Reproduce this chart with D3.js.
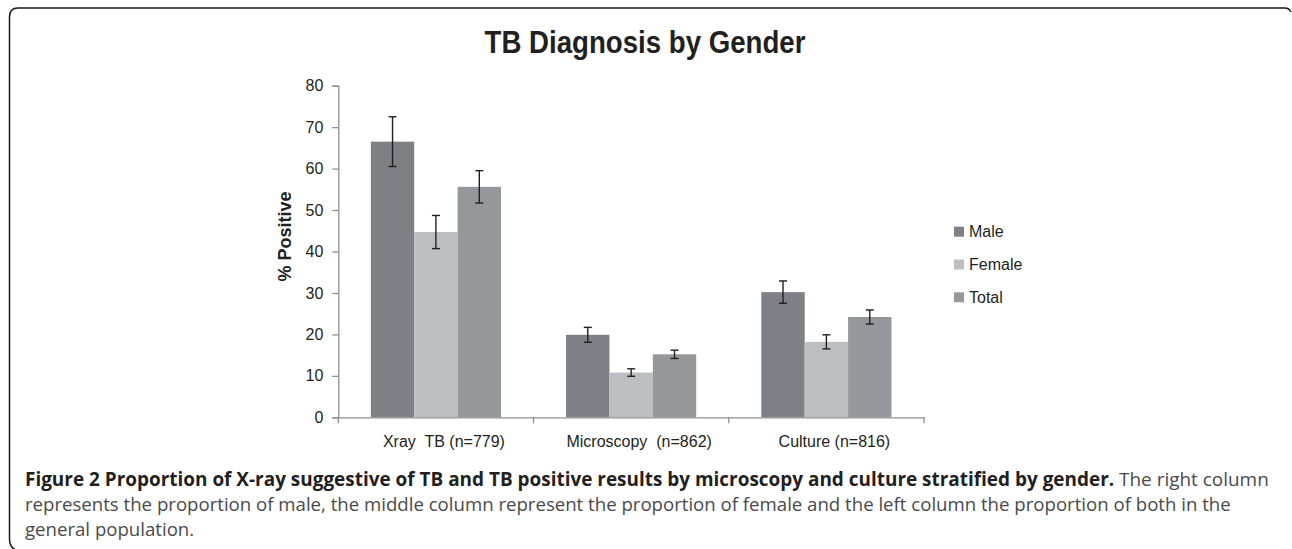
<html>
<head>
<script src="https://cdn.jsdelivr.net/npm/d3@7"></script>
<style>
    body {
        margin: 0;
        background: white;
    }
    svg text {
        font-family: "Liberation Sans", Arial, Helvetica, sans-serif;
    }
    svg text.caption {
        font-family: "Open Sans", sans-serif;
    }
</style>
</head>
<body>
<svg id="chart"></svg>
<script>
    // data
    let categories = ["Xray  TB (n=779)", "Microscopy  (n=862)", "Culture (n=816)"];
    let seriesNames = ["Male", "Female", "Total"];
    let maleValues = [66.5, 19.9, 30.2];
    let maleErrors = [6.0, 1.8, 2.7];
    let femaleValues = [44.7, 10.8, 18.2];
    let femaleErrors = [4.0, 0.9, 1.7];
    let totalValues = [55.6, 15.2, 24.2];
    let totalErrors = [3.9, 1.0, 1.7];
    let yTicks = [0, 10, 20, 30, 40, 50, 60, 70, 80];
    let seriesColors = ["#7f8085", "#bdbec2", "#96979b"];

    let captionBold = "Figure 2 Proportion of X-ray suggestive of TB and TB positive results by microscopy and culture stratified by gender.";
    let captionLines = [
        " The right column",
        "represents the proportion of male, the middle column represent the proportion of female and the left column the proportion of both in the",
        "general population."
    ];

    let width = 1292;
    let height = 549;
    let svg = d3.select("#chart")
        .attr("width", width)
        .attr("height", height);

    // frame around the figure
    svg.append("path")
        .attr("d", "M 19,551 Q 9.5,549 9.5,539 L 9.5,17 Q 9.5,8 18,8 L 1285,8 Q 1289,8 1291,12")
        .attr("fill", "none")
        .attr("stroke", "#1a1a1a")
        .attr("stroke-width", 1.5);

    // title
    svg.append("text")
        .attr("x", 645)
        .attr("y", 53)
        .attr("text-anchor", "middle")
        .attr("textLength", 321)
        .attr("lengthAdjust", "spacingAndGlyphs")
        .style("font-size", "31px")
        .style("font-weight", "bold")
        .attr("fill", "#231f20")
        .text("TB Diagnosis by Gender");

    let margin = { left: 338.3, right: 368, top: 85.7, bottom: 131.7 };
    let plotLeft = margin.left;
    let plotRight = width - margin.right;
    let plotTop = margin.top;
    let plotBottom = height - margin.bottom;

    let xScale = d3.scaleBand()
        .domain(categories)
        .range([plotLeft, plotRight])
        .padding(0);

    let groupScale = d3.scaleBand()
        .domain(seriesNames)
        .range([xScale.bandwidth() / 6, xScale.bandwidth() * 5 / 6])
        .padding(0);

    let yScale = d3.scaleLinear()
        .domain([0, 80])
        .range([plotBottom, plotTop]);

    let colorScale = d3.scaleOrdinal()
        .domain(seriesNames)
        .range(seriesColors);

    let table = [];
    categories.forEach((c, i) => {
        table.push({ cat: c, name: "Male", value: maleValues[i], err: maleErrors[i] });
        table.push({ cat: c, name: "Female", value: femaleValues[i], err: femaleErrors[i] });
        table.push({ cat: c, name: "Total", value: totalValues[i], err: totalErrors[i] });
    });

    // bars
    svg.append("g").selectAll("rect")
        .data(table)
        .enter()
        .append("rect")
        .attr("x", d => xScale(d.cat) + groupScale(d.name))
        .attr("y", d => yScale(d.value))
        .attr("width", groupScale.bandwidth())
        .attr("height", d => yScale(0) - yScale(d.value))
        .attr("fill", d => colorScale(d.name));

    // error bars
    let errs = svg.append("g")
        .attr("stroke", "#231f20")
        .attr("stroke-width", 1.4);
    let errX = d => xScale(d.cat) + groupScale(d.name) + groupScale.bandwidth() / 2;
    errs.selectAll(".stem")
        .data(table)
        .enter()
        .append("line")
        .attr("x1", errX)
        .attr("x2", errX)
        .attr("y1", d => yScale(d.value + d.err))
        .attr("y2", d => yScale(d.value - d.err));
    ["top", "bottom"].forEach(side => {
        errs.selectAll(".cap-" + side)
            .data(table)
            .enter()
            .append("line")
            .attr("x1", d => errX(d) - 4)
            .attr("x2", d => errX(d) + 4)
            .attr("y1", d => yScale(side == "top" ? d.value + d.err : d.value - d.err))
            .attr("y2", d => yScale(side == "top" ? d.value + d.err : d.value - d.err));
    });

    // y axis
    let axisY = d3.axisLeft(yScale)
        .tickValues(yTicks)
        .tickSize(6)
        .tickPadding(9);
    let gy = svg.append("g")
        .attr("transform", `translate(${plotLeft},0)`)
        .call(axisY);
    gy.selectAll("text")
        .style("font-size", "16px")
        .attr("fill", "#231f20");

    // x axis, ticks between the groups
    let axisX = d3.axisBottom(xScale)
        .tickSize(0)
        .tickPadding(18);
    let gx = svg.append("g")
        .attr("transform", `translate(0,${plotBottom})`)
        .call(axisX);
    gx.selectAll("text")
        .style("font-size", "16px")
        .style("white-space", "pre")
        .attr("dx", 8)
        .attr("fill", "#231f20");
    gx.selectAll(".sep")
        .data(categories.concat([null]))
        .enter()
        .append("line")
        .attr("x1", (d, i) => i < categories.length ? xScale(d) : plotRight)
        .attr("x2", (d, i) => i < categories.length ? xScale(d) : plotRight)
        .attr("y1", 0)
        .attr("y2", 6);

    [gx, gy].forEach(g => {
        g.selectAll("path, line").attr("stroke", "#8f8f8f").attr("stroke-width", 1.3);
        g.select(".domain").attr("stroke", "#8f8f8f");
    });

    // y axis label
    svg.append("text")
        .attr("transform", `translate(291,${(plotTop + plotBottom) / 2 - 15}) rotate(-90)`)
        .attr("text-anchor", "middle")
        .style("font-size", "18px")
        .style("font-weight", "bold")
        .attr("fill", "#231f20")
        .text("% Positive");

    // legend
    let legend = svg.append("g")
        .attr("transform", "translate(954,226.7)");
    let items = legend.selectAll("g")
        .data(seriesNames)
        .enter()
        .append("g")
        .attr("transform", (d, i) => `translate(0,${i * 32.8})`);
    items.append("rect")
        .attr("width", 10)
        .attr("height", 10)
        .attr("fill", d => colorScale(d));
    items.append("text")
        .attr("x", 15)
        .attr("y", 10.5)
        .style("font-size", "16px")
        .attr("fill", "#231f20")
        .text(d => d);

    // caption
    let cap = svg.append("g");
    let line1 = cap.append("text")
        .attr("class", "caption")
        .attr("x", 25)
        .attr("y", 486)
        .style("white-space", "pre");
    line1.append("tspan")
        .style("font-weight", "bold")
        .attr("fill", "#231f20")
        .text(captionBold);
    line1.append("tspan")
        .attr("fill", "#4a4a4c")
        .text(captionLines[0]);
    let line2 = cap.append("text")
        .attr("class", "caption")
        .attr("x", 25)
        .attr("y", 511)
        .attr("fill", "#4a4a4c")
        .text(captionLines[1]);
    let line3 = cap.append("text")
        .attr("class", "caption")
        .attr("x", 25)
        .attr("y", 536)
        .attr("fill", "#4a4a4c")
        .text(captionLines[2]);

    // fit the caption font size to the measured line widths
    [[line1, 1244], [line2, 1206]].forEach(p => {
        p[0].style("font-size", "18px");
        let w = p[0].node().getComputedTextLength();
        p[0].style("font-size", (18 * p[1] / w) + "px");
    });
    line3.style("font-size", line2.style("font-size"));
</script>
</body>
</html>
